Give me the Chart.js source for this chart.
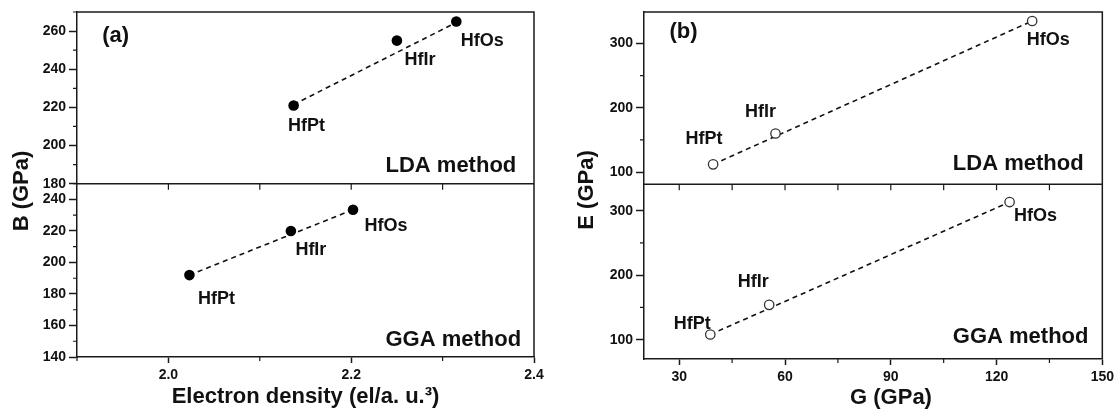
<!DOCTYPE html>
<html>
<head>
<meta charset="utf-8">
<script src="https://cdn.jsdelivr.net/npm/chart.js@4"></script>
<style>
  body { margin: 0; background: #fff; }
  #wrap { position: relative; width: 1118px; height: 409px; }
  canvas { position: absolute; top: 0; }
  #chartA { left: 0; }
  #chartB { left: 560px; }
</style>
</head>
<body>
<div id="wrap">
  <canvas id="chartA" width="560" height="409"></canvas>
  <canvas id="chartB" width="558" height="409"></canvas>
</div>
<script>
// compounds, same order in every sub-plot
const compounds = ['HfPt', 'HfIr', 'HfOs'];

// (a) bulk modulus B (GPa) vs electron density (el/a.u.^3)
const densityLDA = [2.137, 2.250, 2.315];
const bulkLDA = [221, 255, 265];
const densityGGA = [2.023, 2.134, 2.202];
const bulkGGA = [192, 220, 233.5];

// (b) Young's modulus E (GPa) vs shear modulus G (GPa)
const shearLDA = [39.6, 57.3, 130.1];
const youngLDA = [112, 160, 335];
const shearGGA = [38.8, 55.5, 123.7];
const youngGGA = [108, 154, 313.5];

// dashed trend lines, end points
const trendDensityLDA = [2.137, 2.315];
const trendBulkLDA = [221.5, 264.5];
const trendDensityGGA = [2.023, 2.202];
const trendBulkGGA = [192, 233.5];
const trendShearLDA = [39.6, 130.1];
const trendYoungLDA = [112, 335];
const trendShearGGA = [38.8, 123.7];
const trendYoungGGA = [108, 313.5];

// labelled ticks
const densityTicks = [2.0, 2.2, 2.4];
const bulkTicksLDA = [180, 200, 220, 240, 260];
const bulkTicksGGA = [140, 160, 180, 200, 220, 240];
const shearTicks = [30, 60, 90, 120, 150];
const youngTicks = [100, 200, 300];

const FONT = '"Liberation Sans", Arial, sans-serif';
const INK = '#1a1a1a';
const TICK_FONT = { family: FONT, size: 14, weight: 'bold' };
Chart.defaults.font.family = FONT;
Chart.defaults.color = '#111';

function pts(xs, ys) {
  return xs.map((x, i) => ({ x: x, y: ys[i] }));
}

function isMajor(list, v) {
  return list.some(t => Math.abs(t - v) < 1e-6);
}

function yScale(min, max, step, labels, weight, width, digits) {
  return {
    type: 'linear', position: 'left', stack: 'panel', stackWeight: weight,
    min: min, max: max,
    border: { color: INK, width: 1.5 },
    grid: {
      drawOnChartArea: false, tickLength: 8, tickWidth: 1.5,
      tickColor: c => (c.tick && isMajor(labels, c.tick.value)) ? INK : 'rgba(0,0,0,0)'
    },
    ticks: {
      stepSize: step, includeBounds: false, autoSkip: false, padding: 3, font: TICK_FONT,
      callback: v => isMajor(labels, v) ? v.toFixed(digits) : ''
    },
    afterFit: s => { s.width = width; }
  };
}

function xScale(min, max, step, labels, height, digits) {
  return {
    type: 'linear', position: 'bottom', min: min, max: max,
    border: { color: INK, width: 1.5 },
    grid: {
      drawOnChartArea: false, tickLength: 6, tickWidth: 1.5,
      tickColor: c => (c.tick && isMajor(labels, c.tick.value)) ? INK : 'rgba(0,0,0,0)'
    },
    ticks: {
      stepSize: step, includeBounds: false, autoSkip: false, maxRotation: 0, padding: 4,
      font: TICK_FONT,
      callback: v => isMajor(labels, v) ? v.toFixed(digits) : ''
    },
    afterFit: s => { s.height = height; }
  };
}

function text(ctx, s, x, y, size, align) {
  ctx.font = 'bold ' + size + 'px ' + FONT;
  ctx.textAlign = align || 'center';
  ctx.textBaseline = 'middle';
  ctx.fillText(s, x, y);
}

// frame, divider, minor ticks and all free text
function decor(d) {
  return {
    id: 'decor',
    afterDraw(chart) {
      const ctx = chart.ctx, a = chart.chartArea;
      const top = chart.scales.yTop, bot = chart.scales.yBot, x = chart.scales.x;
      const mid = top.bottom;
      ctx.save();
      ctx.strokeStyle = INK;
      ctx.lineWidth = 1.5;
      ctx.beginPath();
      ctx.moveTo(a.left, a.top); ctx.lineTo(a.right, a.top); ctx.lineTo(a.right, a.bottom);
      ctx.moveTo(a.left, mid); ctx.lineTo(a.right, mid);
      ctx.stroke();

      ctx.lineWidth = 1.2;
      ctx.beginPath();
      [[top, d.yTicks[0]], [bot, d.yTicks[1]]].forEach(([s, labels]) => {
        s.ticks.forEach(t => {
          if (isMajor(labels, t.value)) return;
          const py = s.getPixelForValue(t.value);
          ctx.moveTo(a.left - 4, py); ctx.lineTo(a.left, py);
        });
      });
      x.ticks.forEach(t => {
        const px = x.getPixelForValue(t.value);
        if (!isMajor(d.xTicks, t.value)) { ctx.moveTo(px, a.bottom); ctx.lineTo(px, a.bottom + 4); }
        if (px > a.left + 2 && px < a.right - 2) { ctx.moveTo(px, mid); ctx.lineTo(px, mid + 6); }
      });
      ctx.stroke();

      ctx.fillStyle = '#111';
      // point labels
      d.pointLabels.forEach(pl => {
        const meta = chart.getDatasetMeta(pl.dataset);
        meta.data.forEach((el, i) => {
          text(ctx, compounds[i], el.x + pl.offsets[i][0], el.y + pl.offsets[i][1], 18);
        });
      });
      text(ctx, d.letter, a.left + d.letterPos[0], d.letterPos[1], 22);
      text(ctx, 'LDA method', a.right - d.methodInset, mid - d.methodRise[0], 22, 'left');
      text(ctx, 'GGA method', a.right - d.methodInset, a.bottom - d.methodRise[1], 22, 'left');
      text(ctx, d.xTitle, a.left + d.xTitlePos[0], d.xTitlePos[1], 22);
      ctx.save();
      ctx.translate(d.yTitlePos[0], d.yTitlePos[1]);
      ctx.rotate(-Math.PI / 2);
      text(ctx, d.yTitle, 0, 0, 22);
      ctx.restore();
      ctx.restore();
    }
  };
}

function filledDots(data, axis) {
  return { data: data, yAxisID: axis, pointRadius: 5.3, pointBackgroundColor: '#000',
    pointBorderColor: '#000', pointBorderWidth: 0, showLine: false };
}
function openDots(data, axis) {
  return { data: data, yAxisID: axis, pointRadius: 4.7, pointBackgroundColor: '#fff',
    pointBorderColor: '#333', pointBorderWidth: 1.3, showLine: false };
}
function trend(data, axis) {
  return { data: data, yAxisID: axis, showLine: true, pointRadius: 0, borderColor: '#111',
    borderWidth: 1.6, borderDash: [5, 4], fill: false };
}

const baseOptions = {
  responsive: false, animation: false, devicePixelRatio: 1, events: [],
  plugins: { legend: { display: false }, tooltip: { enabled: false } }
};

new Chart(document.getElementById('chartA'), {
  type: 'scatter',
  data: {
    datasets: [
      filledDots(pts(densityLDA, bulkLDA), 'yTop'),
      filledDots(pts(densityGGA, bulkGGA), 'yBot'),
      trend(pts(trendDensityLDA, trendBulkLDA), 'yTop'),
      trend(pts(trendDensityGGA, trendBulkGGA), 'yBot')
    ]
  },
  options: Object.assign({}, baseOptions, {
    layout: { padding: { top: 12, right: 26, left: 0, bottom: 0 } },
    scales: {
      x: xScale(1.9, 2.4, 0.1, densityTicks, 52, 1),
      yBot: yScale(140, 250, 10, bulkTicksGGA, 173.3, 77, 0),
      yTop: yScale(180, 270, 10, bulkTicksLDA, 171.7, 77, 0)
    }
  }),
  plugins: [decor({
    letter: '(a)', letterPos: [38.6, 36],
    xTitle: 'Electron density (el/a. u.\u00B3)', xTitlePos: [228.5, 397],
    yTitle: 'B (GPa)', yTitlePos: [22, 191],
    methodInset: 148.5, methodRise: [17.7, 17.5],
    xTicks: densityTicks, yTicks: [bulkTicksLDA, bulkTicksGGA],
    pointLabels: [
      { dataset: 0, offsets: [[13, 21], [23, 19], [26, 19]] },
      { dataset: 1, offsets: [[27, 24], [20, 19], [33, 16]] }
    ]
  })]
});

new Chart(document.getElementById('chartB'), {
  type: 'scatter',
  data: {
    datasets: [
      openDots(pts(shearLDA, youngLDA), 'yTop'),
      openDots(pts(shearGGA, youngGGA), 'yBot'),
      trend(pts(trendShearLDA, trendYoungLDA), 'yTop'),
      trend(pts(trendShearGGA, trendYoungGGA), 'yBot')
    ]
  },
  options: Object.assign({}, baseOptions, {
    layout: { padding: { top: 12, right: 14, left: 0, bottom: 0 } },
    scales: {
      x: xScale(20, 150, 15, shearTicks, 50, 0),
      yBot: yScale(70, 341, 50, youngTicks, 174.7, 84, 0),
      yTop: yScale(81, 349, 50, youngTicks, 172.3, 84, 0)
    }
  }),
  plugins: [decor({
    letter: '(b)', letterPos: [39.5, 32],
    xTitle: 'G (GPa)', xTitlePos: [247, 398],
    yTitle: 'E (GPa)', yTitlePos: [27, 190],
    methodInset: 149.5, methodRise: [20.3, 22.5],
    xTicks: shearTicks, yTicks: [youngTicks, youngTicks],
    pointLabels: [
      { dataset: 0, offsets: [[-9, -25], [-15, -21], [16, 19]] },
      { dataset: 1, offsets: [[-18, -10], [-16, -23], [26, 14]] }
    ]
  })]
});
</script>
</body>
</html>
